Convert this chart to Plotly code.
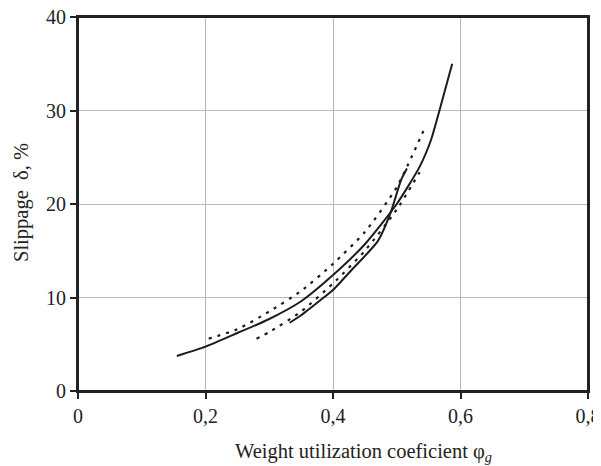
import plotly.graph_objects as go

# Data
long_solid_x = [0.155, 0.20, 0.25, 0.30, 0.35, 0.40, 0.45, 0.50, 0.536, 0.554, 0.567, 0.587]
long_solid_y = [3.75, 4.75, 6.2, 7.7, 9.6, 12.4, 15.7, 20.0, 24.0, 26.9, 30.0, 35.0]

upper_dot_x = [0.205, 0.25, 0.30, 0.35, 0.40, 0.45, 0.50, 0.545]
upper_dot_y = [5.6, 6.6, 8.5, 10.7, 13.6, 17.0, 21.8, 28.3]

lower_dot_x = [0.28, 0.30, 0.35, 0.40, 0.45, 0.50, 0.536]
lower_dot_y = [5.6, 6.3, 8.5, 11.5, 15.0, 19.4, 23.4]

short_solid_x = [0.332, 0.35, 0.38, 0.40, 0.43, 0.47, 0.49, 0.507, 0.516]
short_solid_y = [7.3, 8.1, 9.7, 10.8, 13.0, 16.0, 19.0, 22.6, 23.8]

x_ticks = [0, 0.2, 0.4, 0.6, 0.8]
x_tick_text = ["0", "0,2", "0,4", "0,6", "0,8"]
y_ticks = [0, 10, 20, 30, 40]
y_tick_text = ["0", "10", "20", "30", "40"]

x_title = "Weight utilization coeficient φ<sub><i>g</i></sub>"
y_title = "Slippage  δ, %"

LINE = "#1c1c1c"
DOT = "3px,6px"

fig = go.Figure()
fig.add_trace(go.Scatter(x=long_solid_x, y=long_solid_y, mode="lines",
                         line=dict(color=LINE, width=2, shape="spline", smoothing=0.6)))
fig.add_trace(go.Scatter(x=upper_dot_x, y=upper_dot_y, mode="lines",
                         line=dict(color=LINE, width=2.2, dash=DOT, shape="spline", smoothing=0.6)))
fig.add_trace(go.Scatter(x=lower_dot_x, y=lower_dot_y, mode="lines",
                         line=dict(color=LINE, width=2.2, dash=DOT, shape="spline", smoothing=0.6)))
fig.add_trace(go.Scatter(x=short_solid_x, y=short_solid_y, mode="lines",
                         line=dict(color=LINE, width=2, shape="spline", smoothing=0.6)))

font_family = "Liberation Serif, Times New Roman, serif"

# the page body adds an 8px offset; margins compensate for it
fig.update_layout(
    width=601, height=466,
    margin=dict(l=70, r=21, t=9, b=83),
    paper_bgcolor="white", plot_bgcolor="white",
    showlegend=False,
    font=dict(family=font_family, color="#222222", size=19),
)
# frame around the plotting area
fig.add_shape(type="rect", xref="paper", yref="paper", x0=0, x1=1, y0=0, y1=1,
              line=dict(color="#222222", width=2), layer="above")
# axis titles (placed as in the reference, slightly off-centre)
fig.add_annotation(text=x_title, xref="paper", yref="paper", x=0.559, y=-0.125,
                   xanchor="center", yanchor="top", showarrow=False,
                   font=dict(size=20.5, family=font_family, color="#222222"))
fig.add_annotation(text=y_title, xref="paper", yref="paper", x=-0.112, y=0.505,
                   xanchor="center", yanchor="middle", textangle=-90, showarrow=False,
                   font=dict(size=20.5, family=font_family, color="#222222"))
fig.update_xaxes(
    range=[0, 0.8], tickvals=x_ticks, ticktext=x_tick_text,
    automargin=False, ticklabeloverflow="allow",
    showgrid=True, gridcolor="#b8b8b8", gridwidth=1, zeroline=False,
    showline=True, linecolor="#222222", linewidth=2, mirror=True,
    ticks="outside", ticklen=6, tickwidth=2, tickcolor="#222222",
    tickfont=dict(size=20, family=font_family),
)
fig.update_yaxes(
    range=[0, 40], tickvals=y_ticks, ticktext=y_tick_text,
    automargin=False, ticklabeloverflow="allow",
    showgrid=True, gridcolor="#b8b8b8", gridwidth=1, zeroline=False,
    showline=True, linecolor="#222222", linewidth=2, mirror=True,
    ticks="outside", ticklen=6, tickwidth=2, tickcolor="#222222",
    tickfont=dict(size=20, family=font_family),
)

fig.write_html("out.html")
